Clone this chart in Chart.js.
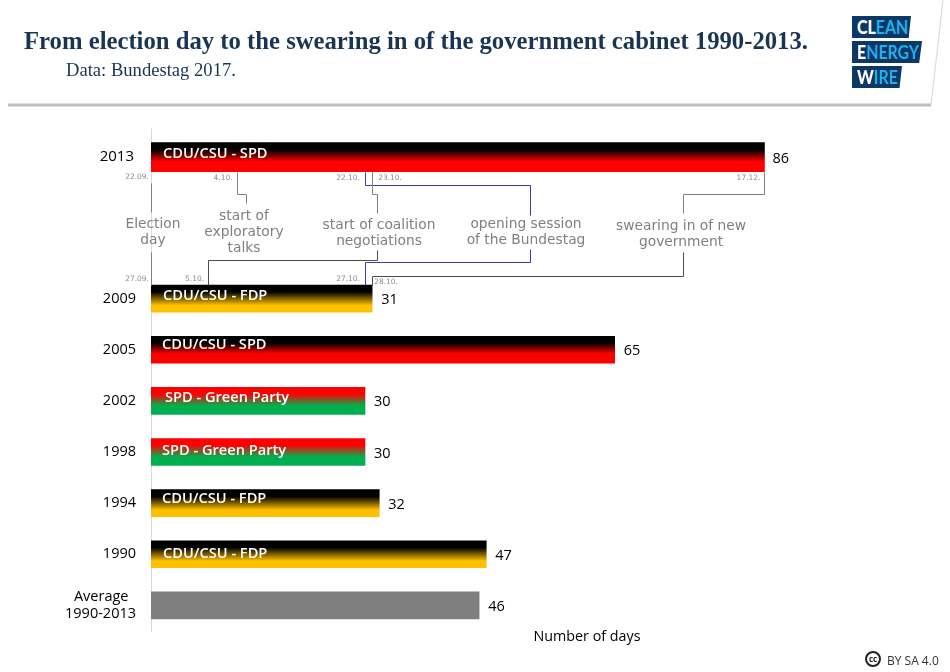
<!DOCTYPE html>
<html>
<head>
<meta charset="utf-8">
<script src="https://cdn.jsdelivr.net/npm/chart.js@4/dist/chart.umd.js"></script>
<style>
html, body { margin: 0; padding: 0; background: #fff; }
#wrap { position: relative; width: 950px; height: 672px; overflow: hidden; }
#lineChart { position: absolute; left: 0; top: 0; }
#banner { position: absolute; left: 0; top: 0; }
.head { position: absolute; font-family: "Liberation Serif", serif; color: #1a3553; white-space: nowrap; }
#title { left: 24px; top: 27px; font-size: 24.7px; font-weight: bold; }
#source { left: 66px; top: 59px; font-size: 18.6px; }
.logo { position: absolute; left: 852px; background: #0c3766; box-sizing: border-box; overflow: hidden; }
.logo span { position: absolute; left: 5px; top: 0; color: #1fb0e8; font: bold 18.5px/22px "Lato", sans-serif; white-space: nowrap; transform: scaleX(0.86); transform-origin: left top; }
.logo b { color: #fff; }
#licence { position: absolute; left: 887px; top: 652px; font: 12px "Open Sans", sans-serif; color: #333; }
#ccIcon { position: absolute; left: 865px; top: 651px; width: 16px; height: 16px; border: 2px solid #222; border-radius: 50%; box-sizing: border-box; font: bold 8px/12px "Open Sans", sans-serif; text-align: center; color: #222; }
</style>
</head>
<body>
<div id="wrap">
  <svg id="banner" width="950" height="112">
    <line x1="8" y1="105" x2="931" y2="105" stroke="#bdbdbd" stroke-width="3"></line>
    <line x1="931" y1="105" x2="943" y2="0" stroke="#dcdcdc" stroke-width="1.2"></line>
  </svg>
  <canvas id="lineChart" width="950" height="672"></canvas>
  <div class="head" id="title">From election day to the swearing in of the government cabinet 1990-2013.</div>
  <div class="head" id="source">Data: Bundestag 2017.</div>
  <div class="logo" style="top:16px;width:59px;height:22px;clip-path:polygon(0 0,100% 0,96% 100%,0 100%)"><span><b>CL</b>EAN</span></div>
  <div class="logo" style="top:41px;width:70px;height:22px;clip-path:polygon(0 0,100% 0,96% 100%,0 100%)"><span><b>E</b>NERGY</span></div>
  <div class="logo" style="top:66px;width:50px;height:22px;clip-path:polygon(0 0,100% 0,95% 100%,0 100%)"><span><b>W</b>IRE</span></div>
  <div id="ccIcon">cc</div>
  <div id="licence">BY SA 4.0</div>
</div>
<script>
var topYears = ["2013", "", ""];
var topDays = [86];
var topCoalition = ["CDU/CSU - SPD"];

var years = ["2009", "2005", "2002", "1998", "1994", "1990", ["Average\u00a0\u00a0", "1990-2013"]];
var days = [31, 65, 30, 30, 32, 47, 46];
var coalitions = ["CDU/CSU - FDP", "CDU/CSU - SPD", "SPD - Green Party", "SPD - Green Party", "CDU/CSU - FDP", "CDU/CSU - FDP", ""];

// days after the election, and the printed date, for each connector end
var days2013 = [0, 12, 30, 31, 86];
var dates2013 = ["22.09.", "4.10.", "22.10.", "23.10.", "17.12."];
var days2009 = [0, 8, 30, 31];
var dates2009 = ["27.09.", "5.10.", "27.10.", "28.10."];

var partyColors = {
    "CDU/CSU - SPD": ["#000000", "#ff0000", 0.65],
    "CDU/CSU - FDP": ["#000000", "#ffc000", 0.75],
    "SPD - Green Party": ["#ff0000", "#00b050", 0.68]
};

function barFill(names, axisId, height) {
    return function (ctx) {
        var chart = ctx.chart;
        var pair = partyColors[names[ctx.dataIndex]];
        if (!pair) return "#7f7f7f";
        if (!chart.chartArea) return pair[1];
        var mid = chart.scales[axisId].getPixelForValue(ctx.dataIndex);
        var g = chart.ctx.createLinearGradient(0, mid - height / 2, 0, mid + height / 2);
        g.addColorStop(0.25, pair[0]);
        g.addColorStop(pair[2], pair[1]);
        return g;
    };
}

function drawPath(c, color, pts) {
    c.strokeStyle = color;
    c.lineWidth = 1;
    c.beginPath();
    pts.forEach(function (p, i) {
        if (i == 0) c.moveTo(Math.round(p[0]) + 0.5, p[1] + 0.5);
        else c.lineTo(Math.round(p[0]) + 0.5, p[1] + 0.5);
    });
    c.stroke();
}

function drawLines(c, x, lines, lineHeight, y) {
    lines.forEach(function (t, i) { c.fillText(t, x, y + i * lineHeight); });
}

var barLabels = {
    id: "barLabels",
    afterDatasetsDraw: function (chart) {
        var c = chart.ctx;
        c.save();
        c.textBaseline = "middle";
        // inner nudges follow the hand placed labels of the original
        var nudges = { 0: [[12, -3]], 1: [[12, -3], [11, -5], [14, -3], [11, -1], [11, -4], [12, 0], [0, 0]] };
        [[topDays, topCoalition], [days, coalitions]].forEach(function (set, d) {
            chart.getDatasetMeta(d).data.forEach(function (bar, i) {
                c.textAlign = "left";
                c.fillStyle = "#000";
                c.font = "14.5px 'Open Sans'";
                c.fillText(set[0][i], bar.x + (d == 0 ? 8 : 9), bar.y + 1.5);
                if (set[1][i]) {
                    c.fillStyle = "#fff";
                    c.font = "600 14.6px 'Open Sans'";
                    c.fillText(set[1][i], chart.chartArea.left + nudges[d][i][0], bar.y + nudges[d][i][1]);
                }
            });
        });
        c.fillStyle = "#000";
        c.font = "14.3px 'Open Sans'";
        c.textAlign = "center";
        c.fillText("Number of days", 587, 637);
        c.restore();
    }
};

var timeline = {
    id: "timeline",
    afterDraw: function (chart) {
        var c = chart.ctx;
        var px = function (v) { return chart.scales.x.getPixelForValue(v); };
        var grey = "#808080", dark = "#4d4d4d", blue = "#3b3b9f";
        c.save();

        // axis stub above the first stacked scale
        drawPath(c, "#d9d9d9", [[px(0), 128], [px(0), 134]]);

        drawPath(c, grey, [[px(days2013[0]), 183], [px(days2013[0]), 212]]);
        drawPath(c, grey, [[px(days2009[0]), 252], [px(days2009[0]), 285]]);

        drawPath(c, grey, [[px(days2013[1]), 172], [px(days2013[1]), 194], [246, 194], [246, 203]]);
        drawPath(c, dark, [[px(days2009[1]), 285], [px(days2009[1]), 260], [377, 260], [377, 250]]);

        drawPath(c, blue, [[px(days2013[2]), 172], [px(days2013[2]), 185], [530, 185], [530, 215]]);
        drawPath(c, blue, [[px(days2009[2]), 285], [px(days2009[2]), 262], [530, 262], [530, 249]]);

        drawPath(c, grey, [[px(days2013[3]), 172], [px(days2013[3]), 194], [377, 194], [377, 213]]);
        drawPath(c, dark, [[px(days2009[3]), 285], [px(days2009[3]), 276], [683, 276], [683, 252]]);

        drawPath(c, grey, [[px(days2013[4]), 172], [px(days2013[4]), 194], [683, 194], [683, 213]]);

        c.fillStyle = "#808080";
        c.textAlign = "center";
        c.textBaseline = "middle";
        c.font = "13.8px 'DejaVu Sans'";
        drawLines(c, 153, ["Election", "day"], 16, 224);
        drawLines(c, 244, ["start of", "exploratory", "talks"], 16, 216.5);
        drawLines(c, 379, ["start of coalition", "negotiations"], 16, 225);
        drawLines(c, 526, ["opening session", "of the Bundestag"], 16, 224);
        drawLines(c, 681, ["swearing in of new", "government"], 16, 226);

        c.font = "7.5px 'DejaVu Sans'";
        c.fillStyle = "#8c8c8c";
        var right2013 = [-2, -4, -5, null, -4];
        dates2013.forEach(function (t, i) {
            if (right2013[i] === null) { c.textAlign = "left"; c.fillText(t, px(days2013[i]) + 6, 178); }
            else { c.textAlign = "right"; c.fillText(t, px(days2013[i]) + right2013[i], i == 0 ? 177 : 178); }
        });
        var right2009 = [-2, -4, -5, null];
        dates2009.forEach(function (t, i) {
            if (right2009[i] === null) { c.textAlign = "left"; c.fillText(t, px(days2009[i]) + 2, 282); }
            else { c.textAlign = "right"; c.fillText(t, px(days2009[i]) + right2009[i], 279); }
        });
        c.restore();
    }
};

function yScale(labels, weight, order, fontSize, pad) {
    return {
        type: "category",
        labels: labels,
        position: "left",
        stack: "years",
        stackWeight: weight,
        weight: order,
        offset: true,
        afterFit: function (scale) { scale.width = 151; },
        grid: { display: false, drawTicks: false },
        border: { display: true, color: "#d9d9d9", width: 1 },
        ticks: { padding: pad, color: "#000", autoSkip: false, font: { family: "Open Sans", size: fontSize } }
    };
}

var ctx = document.getElementById("lineChart").getContext("2d");
new Chart(ctx, {
    type: "bar",
    data: {
        datasets: [
            { data: topDays, yAxisID: "yTop", xAxisID: "x", grouped: false, barThickness: 29, backgroundColor: barFill(topCoalition, "yTop", 29) },
            { data: days, yAxisID: "yRest", xAxisID: "x", grouped: false, barThickness: 27, backgroundColor: barFill(coalitions, "yRest", 27) }
        ]
    },
    options: {
        indexAxis: "y",
        responsive: false,
        animation: false,
        layout: { padding: { top: 134, bottom: 41, left: 0, right: 157 } },
        plugins: { legend: { display: false }, tooltip: { enabled: false } },
        scales: {
            x: { min: 0, max: 90, display: false },
            yTop: yScale(topYears, 139, 2, 15, 17),
            yRest: yScale(years, 358, 1, 14.5, 15)
        }
    },
    plugins: [barLabels, timeline]
});
</script>
</body>
</html>
